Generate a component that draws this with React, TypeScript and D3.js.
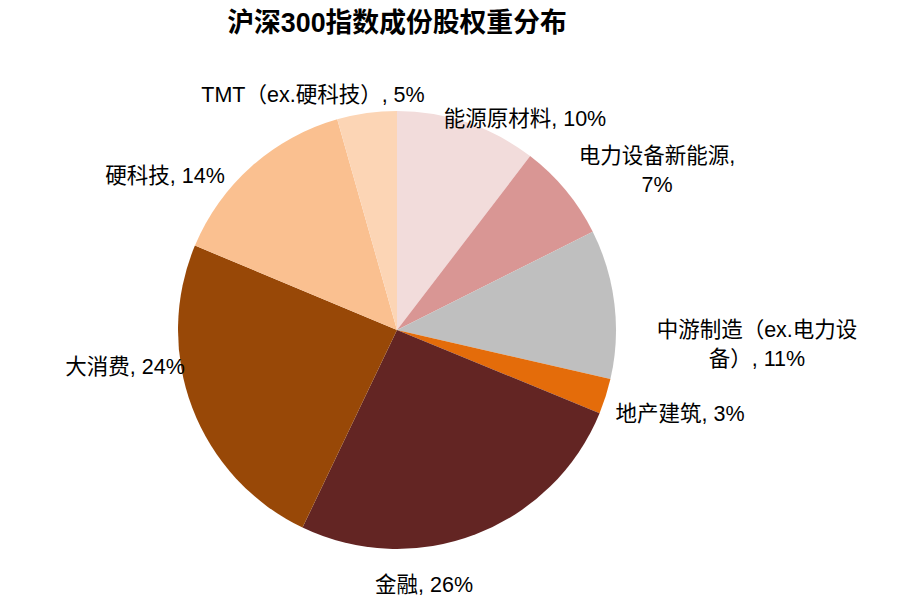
import { arc, pie } from 'd3'
import type { PieArcDatum } from 'd3'

const WIDTH = 900
const HEIGHT = 606
const CX = 397
const CY = 330
const RADIUS = 219

const sectors = ['能源原材料', '电力设备新能源', '中游制造（ex.电力设备）', '地产建筑', '金融', '大消费', '硬科技', 'TMT（ex.硬科技）']
const weights = [10.4, 7.2, 11.0, 2.6, 25.9, 24.2, 14.3, 4.4]
const labelPercents = ['10%', '7%', '11%', '3%', '26%', '24%', '14%', '5%']
const colors = ['#F2DCDB', '#D99694', '#BFBFBF', '#E46C0A', '#632523', '#984807', '#FAC090', '#FCD5B5']

// label lines, as Excel wrapped them
const labelLines = [
  ['能源原材料, 10%'],
  ['电力设备新能源,', '7%'],
  ['中游制造（ex.电力设', '备）, 11%'],
  ['地产建筑, 3%'],
  ['金融, 26%'],
  ['大消费, 24%'],
  ['硬科技, 14%'],
  ['TMT（ex.硬科技）, 5%'],
]
// label centre offsets from the pie centre
const labelOffsets: [number, number][] = [
  [128, -211],
  [260, -160],
  [360, 14],
  [283, 84],
  [27, 255],
  [-272, 37],
  [-232, -154],
  [-84, -235],
]

type Slice = { name: string; value: number; idx: number }

export default function App() {
  const data: Slice[] = sectors.map((name, idx) => ({ name, value: weights[idx], idx }))
  const arcs = pie<Slice>()
    .sort(null)
    .value((d) => d.value)
    .startAngle(0)
    .endAngle(2 * Math.PI)(data)
  const slicePath = arc<PieArcDatum<Slice>>().innerRadius(0).outerRadius(RADIUS)
  const lineHeight = 29

  return (
    <svg
      width={WIDTH}
      height={HEIGHT}
      style={{ position: 'absolute', left: 0, top: 0 }}
      fontFamily="'Liberation Sans', Arial, 'Noto Sans CJK SC', sans-serif"
    >
      <rect width={WIDTH} height={HEIGHT} fill="#fff" />
      <text x={CX} y={23} textAnchor="middle" dominantBaseline="central" fontSize={26.8} fontWeight="bold" fill="#000">
        沪深300指数成份股权重分布
      </text>
      <g transform={`translate(${CX},${CY})`}>
        {arcs.map((a) => (
          <path key={a.data.name} d={slicePath(a) ?? ''} fill={colors[a.data.idx]}>
            <title>{`${a.data.name} ${labelPercents[a.data.idx]}`}</title>
          </path>
        ))}
        {labelLines.map((lines, i) => {
          const [dx, dy] = labelOffsets[i]
          const top = dy - ((lines.length - 1) * lineHeight) / 2
          return (
            <text key={i} textAnchor="middle" dominantBaseline="central" fontSize={21.5} fill="#000">
              {lines.map((ln, j) => (
                <tspan key={j} x={dx} y={top + j * lineHeight}>
                  {ln}
                </tspan>
              ))}
            </text>
          )
        })}
      </g>
    </svg>
  )
}
